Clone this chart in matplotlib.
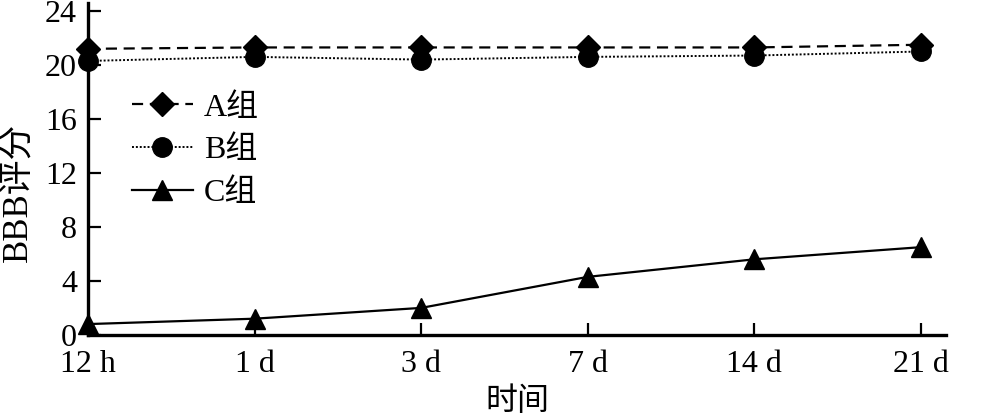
import matplotlib
matplotlib.use('Agg')
import matplotlib.pyplot as plt

plt.rcParams['font.family'] = ['Liberation Serif', 'Noto Sans CJK SC']

times = ['12 h', '1 d', '3 d', '7 d', '14 d', '21 d']
group_a = [21.2, 21.3, 21.3, 21.3, 21.3, 21.5]
group_b = [20.3, 20.6, 20.4, 20.6, 20.7, 21.0]
group_c = [0.8, 1.2, 2.0, 4.3, 5.6, 6.5]
yticks = [0, 4, 8, 12, 16, 20, 24]

fig = plt.figure(figsize=(10.01, 4.16), dpi=100)
ax = fig.add_axes([0.088, 0.195, 0.857, 0.798])
x = list(range(len(times)))

ax.plot(x, group_a, color='black', lw=1.6, ls=(0, (5, 3)), marker='D', markersize=12,
        label='A组', clip_on=False, zorder=3)
ax.plot(x, group_b, color='black', lw=1.4, ls=(0, (1, 1)), marker='o', markersize=14,
        label='B组', clip_on=False, zorder=3)
ax.plot(x, group_c, color='black', lw=1.6, ls='-', marker='^', markersize=14,
        label='C组', clip_on=False, zorder=3)

ax.set_xlim(0, 5.15)
ax.set_ylim(0, 24.6)
ax.set_xticks(x)
ax.set_xticklabels(times)
ax.set_yticks(yticks)
ax.tick_params(direction='in', length=9, width=1.6, labelsize=23)
ax.tick_params(axis='x', pad=11)
ax.tick_params(axis='y', pad=8)
for s in ['top', 'right']:
    ax.spines[s].set_visible(False)
for s in ['left', 'bottom']:
    ax.spines[s].set_linewidth(2.4)

ax.set_xlabel('时间', fontsize=23, labelpad=6)
ax.set_ylabel('BBB评分', fontsize=25)
ax.yaxis.set_label_coords(-0.062, 0.43)

ax.legend(loc='upper left', bbox_to_anchor=(0.051, 0.728), frameon=False, fontsize=23,
          handlelength=1.9, handletextpad=0.35, labelspacing=0.42, borderpad=0,
          borderaxespad=0)

plt.savefig('out.png', dpi=100)
